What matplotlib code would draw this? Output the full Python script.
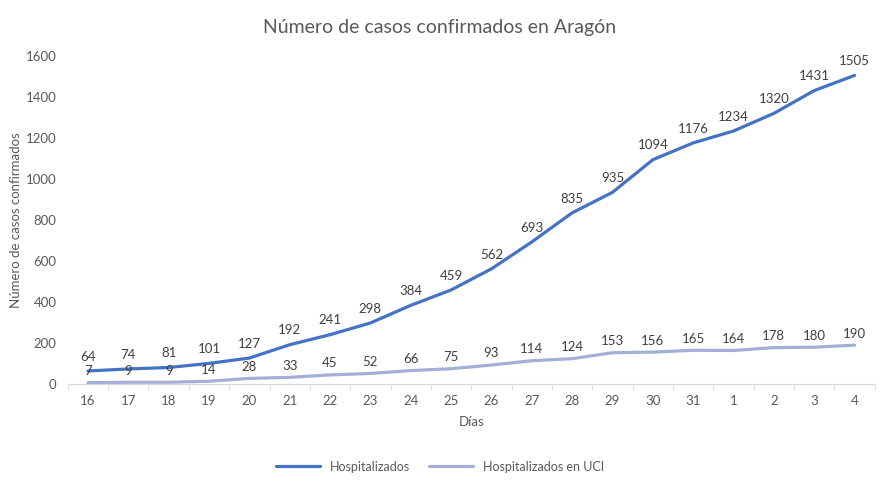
import matplotlib.pyplot as plt
import numpy as np

plt.rcParams['font.family'] = ['Lato', 'DejaVu Sans']

dias = ['16', '17', '18', '19', '20', '21', '22', '23', '24', '25', '26', '27',
        '28', '29', '30', '31', '1', '2', '3', '4']
hospitalizados = [64, 74, 81, 101, 127, 192, 241, 298, 384, 459, 562, 693,
                  835, 935, 1094, 1176, 1234, 1320, 1431, 1505]
uci = [7, 9, 9, 14, 28, 33, 45, 52, 66, 75, 93, 114,
       124, 153, 156, 165, 164, 178, 180, 190]

COL_HOSP = '#4472c4'
COL_UCI = '#a4afd9'
TXT = '#404040'
GRAY = '#595959'

fig = plt.figure(figsize=(8.8, 4.95), dpi=100)
ax = fig.add_axes([0.077, 0.224, 0.917, 0.663])

x = np.arange(len(dias))
ax.plot(x, hospitalizados, color=COL_HOSP, lw=2.3, label='Hospitalizados',
        solid_capstyle='round')
ax.plot(x, uci, color=COL_UCI, lw=2.3, label='Hospitalizados en UCI',
        solid_capstyle='round')

for xi, v in zip(x, hospitalizados):
    ax.annotate(str(v), (xi, v), xytext=(0, 6), textcoords='offset points',
                ha='center', va='bottom', fontsize=9.5, color=TXT)
for xi, v in zip(x, uci):
    ax.annotate(str(v), (xi, v), xytext=(0, 4), textcoords='offset points',
                ha='center', va='bottom', fontsize=9.5, color=TXT)

ax.set_xlim(-0.5, len(dias) - 0.5)
ax.set_ylim(0, 1600)
ax.set_yticks(np.arange(0, 1601, 200))
ax.set_xticks(x)
ax.set_xticklabels(dias)
ax.set_xticks(np.arange(-0.5, len(dias), 1), minor=True)
ax.tick_params(axis='x', which='major', length=0, pad=8, labelsize=9.5, labelcolor=GRAY)
ax.tick_params(axis='x', which='minor', length=4, color='#d9d9d9', direction='out')
ax.tick_params(axis='y', length=0, pad=8, labelsize=9.5, labelcolor=GRAY)

for s in ['top', 'right', 'left']:
    ax.spines[s].set_visible(False)
ax.spines['bottom'].set_color('#d9d9d9')

ax.set_xlabel('Días', fontsize=9.5, color=GRAY, labelpad=6)
ax.set_ylabel('Número de casos confirmados', fontsize=9.5, color=GRAY)
ax.yaxis.set_label_coords(-0.057, 0.5)
fig.text(0.5, 0.945, 'Número de casos confirmados en Aragón', ha='center',
         va='center', fontsize=14, color=GRAY)

fig.legend(loc='center', bbox_to_anchor=(0.5, 0.057), ncol=2, frameon=False,
           fontsize=9, labelcolor=GRAY, handlelength=3.5, columnspacing=1.5)

fig.savefig('out.png', dpi=100)
